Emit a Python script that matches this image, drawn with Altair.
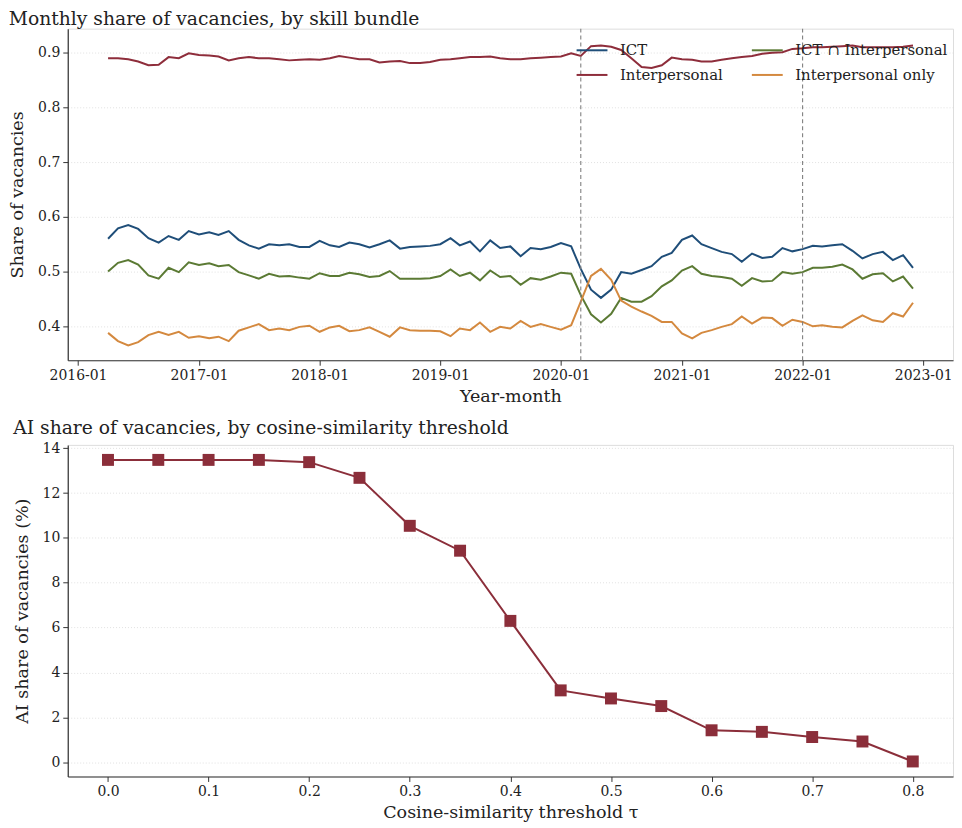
import altair as alt
import pandas as pd

FONT = "DejaVu Serif"

# ---------------- data: monthly shares (2016-04 .. 2022-12) ----------------
months = pd.date_range("2016-04-01", "2022-12-01", freq="MS").strftime("%Y-%m-%d").tolist()

ict = [0.560, 0.579, 0.585, 0.578, 0.561, 0.553, 0.565, 0.558, 0.574, 0.568,
       0.572, 0.567, 0.574, 0.558, 0.548, 0.542, 0.550, 0.548, 0.550, 0.545,
       0.545, 0.556, 0.548, 0.545, 0.553, 0.550, 0.544, 0.550, 0.557, 0.542,
       0.545, 0.546, 0.547, 0.550, 0.561, 0.548, 0.555, 0.537, 0.557, 0.543,
       0.546, 0.528, 0.543, 0.541, 0.545, 0.552, 0.546, 0.505, 0.467, 0.452,
       0.467, 0.499, 0.496, 0.503, 0.510, 0.527, 0.534, 0.558, 0.566, 0.550,
       0.543, 0.536, 0.532, 0.518, 0.533, 0.525, 0.527, 0.543, 0.537, 0.541,
       0.547, 0.546, 0.548, 0.550, 0.538, 0.524, 0.532, 0.536, 0.521, 0.530,
       0.507]

interpersonal = [0.890, 0.890, 0.888, 0.884, 0.877, 0.878, 0.892, 0.890, 0.899, 0.896,
                 0.895, 0.893, 0.886, 0.890, 0.892, 0.890, 0.890, 0.888, 0.886, 0.887,
                 0.888, 0.887, 0.890, 0.894, 0.891, 0.888, 0.888, 0.882, 0.884, 0.885,
                 0.881, 0.881, 0.883, 0.887, 0.888, 0.890, 0.892, 0.892, 0.893, 0.890,
                 0.888, 0.888, 0.890, 0.891, 0.892, 0.893, 0.899, 0.894, 0.912, 0.913,
                 0.911, 0.905, 0.890, 0.874, 0.872, 0.877, 0.891, 0.888, 0.887, 0.884,
                 0.884, 0.887, 0.890, 0.892, 0.894, 0.898, 0.900, 0.901, 0.907, 0.908,
                 0.910, 0.910, 0.911, 0.912, 0.913, 0.910, 0.910, 0.910, 0.910, 0.911,
                 0.913]

ict_and_interpersonal = [0.500, 0.516, 0.521, 0.513, 0.493, 0.487, 0.507, 0.499, 0.517, 0.512,
                         0.515, 0.510, 0.512, 0.499, 0.493, 0.487, 0.496, 0.491, 0.492, 0.489,
                         0.487, 0.497, 0.492, 0.492, 0.498, 0.495, 0.490, 0.492, 0.501, 0.487,
                         0.487, 0.487, 0.488, 0.492, 0.504, 0.492, 0.498, 0.484, 0.502, 0.490,
                         0.492, 0.476, 0.488, 0.485, 0.491, 0.498, 0.496, 0.457, 0.422, 0.407,
                         0.423, 0.452, 0.445, 0.445, 0.455, 0.473, 0.484, 0.502, 0.510, 0.496,
                         0.492, 0.490, 0.487, 0.474, 0.488, 0.482, 0.483, 0.499, 0.496, 0.499,
                         0.507, 0.507, 0.509, 0.513, 0.504, 0.487, 0.495, 0.497, 0.482, 0.491,
                         0.469]

interpersonal_only = [0.388, 0.373, 0.365, 0.371, 0.384, 0.390, 0.384, 0.390, 0.379, 0.382,
                      0.378, 0.381, 0.373, 0.392, 0.398, 0.404, 0.393, 0.396, 0.393, 0.399,
                      0.401, 0.390, 0.398, 0.401, 0.391, 0.393, 0.398, 0.390, 0.381, 0.398,
                      0.393, 0.392, 0.392, 0.391, 0.382, 0.396, 0.393, 0.407, 0.390, 0.399,
                      0.396, 0.410, 0.399, 0.404, 0.399, 0.394, 0.402, 0.445, 0.492, 0.505,
                      0.485, 0.447, 0.436, 0.427, 0.419, 0.408, 0.408, 0.387, 0.378, 0.388,
                      0.393, 0.399, 0.404, 0.418, 0.405, 0.416, 0.415, 0.401, 0.412, 0.408,
                      0.400, 0.402, 0.399, 0.398, 0.410, 0.420, 0.411, 0.408, 0.424, 0.418,
                      0.443]

series_names = ["ICT", "Interpersonal", "ICT \u2229 Interpersonal", "Interpersonal only"]
series_colors = ["#1f4e79", "#8e2d3b", "#5b7a34", "#d4893f"]
event_months = ["2020-03-01", "2022-01-01"]
year_ticks = list(range(2016, 2024))

# ---------------- data: AI share by threshold ----------------
tau = [0.00, 0.05, 0.10, 0.15, 0.20, 0.25, 0.30, 0.35, 0.40,
       0.45, 0.50, 0.55, 0.60, 0.65, 0.70, 0.75, 0.80]
ai_share = [13.48, 13.48, 13.48, 13.48, 13.38, 12.68, 10.54, 9.43, 6.30,
            3.20, 2.84, 2.50, 1.42, 1.35, 1.12, 0.92, 0.03]
ai_color = "#8b2e3a"

# ---------------- tables ----------------
rows = []
for name, vals in zip(series_names, [ict, interpersonal, ict_and_interpersonal, interpersonal_only]):
    for m, v in zip(months, vals):
        rows.append({"month": m, "series": name, "share": v})
df_top = pd.DataFrame(rows)
df_events = pd.DataFrame({"month": event_months})
df_ai = pd.DataFrame({"tau": tau, "ai": ai_share})


def ms(s):
    return int(pd.Timestamp(s).value // 10**6)


TXT = "#222222"
PLOT_W = 889
PLOT_H = 333
axis_common = dict(
    labelFont=FONT, titleFont=FONT, labelFontSize=14, titleFontSize=17.6,
    titleFontWeight="normal", labelColor=TXT, titleColor=TXT,
    domainColor="#333333", tickColor="#333333", tickSize=5, domainWidth=1.2,
)

x_top = alt.X(
    "month:T",
    scale=alt.Scale(type="utc", domain=[ms("2015-12-01"), ms("2023-04-01")], nice=False),
    axis=alt.Axis(
        title="Year-month", format="%Y-%m", grid=False,
        values=[alt.DateTime(year=y, month=1, date=1, utc=True) for y in year_ticks],
        labelPadding=3, titlePadding=5, **axis_common,
    ),
)
y_top = alt.Y(
    "share:Q",
    scale=alt.Scale(domain=[0.338, 0.944], nice=False, zero=False),
    axis=alt.Axis(
        title="Share of vacancies", format=".1f", values=[0.4, 0.5, 0.6, 0.7, 0.8, 0.9],
        grid=True, gridColor="#d9d9d9", gridDash=[1, 2], gridWidth=0.8,
        labelPadding=3, titlePadding=11, **axis_common,
    ),
)

lines = alt.Chart(df_top).mark_line(strokeWidth=2).encode(
    x=x_top,
    y=y_top,
    color=alt.Color(
        "series:N",
        scale=alt.Scale(domain=series_names, range=series_colors),
        legend=alt.Legend(
            orient="none", legendX=510, legendY=5, columns=2, title=None,
            symbolType="stroke", symbolSize=961, symbolStrokeWidth=2,
            labelFont=FONT, labelFontSize=15, labelColor=TXT, labelOffset=11.5,
            rowPadding=-8, columnPadding=25, padding=0,
        ),
    ),
)

events = alt.Chart(df_events).mark_rule(
    strokeDash=[4, 3], color="#808080", strokeWidth=1.1
).encode(x="month:T")

top = alt.layer(lines, events).properties(
    width=PLOT_W, height=PLOT_H,
    title=alt.TitleParams(
        "Monthly share of vacancies, by skill bundle", anchor="start",
        font=FONT, fontSize=18.8, fontWeight="normal", color=TXT, offset=-1,
    ),
)

x_bot = alt.X(
    "tau:Q",
    scale=alt.Scale(domain=[-0.04, 0.84], nice=False, zero=False),
    axis=alt.Axis(
        title="Cosine-similarity threshold \u03c4", format=".1f",
        values=[0.0, 0.1, 0.2, 0.3, 0.4, 0.5, 0.6, 0.7, 0.8], grid=False,
        labelPadding=3, titlePadding=5, **axis_common,
    ),
)
y_bot = alt.Y(
    "ai:Q",
    scale=alt.Scale(domain=[-0.64, 14.15], nice=False, zero=False),
    axis=alt.Axis(
        title="AI share of vacancies (%)", format="d", values=list(range(0, 15, 2)),
        grid=True, gridColor="#d9d9d9", gridDash=[1, 2], gridWidth=0.8,
        labelPadding=3, titlePadding=11, **axis_common,
    ),
)

ai_line = alt.Chart(df_ai).mark_line(strokeWidth=2, color=ai_color).encode(x=x_bot, y=y_bot)
ai_pts = alt.Chart(df_ai).mark_point(
    shape="square", size=144, filled=True, color=ai_color, opacity=1
).encode(x=x_bot, y=y_bot)

bottom = alt.layer(ai_line, ai_pts).properties(
    width=PLOT_W, height=PLOT_H,
    title=alt.TitleParams(
        "AI share of vacancies, by cosine-similarity threshold", anchor="start",
        font=FONT, fontSize=18.8, fontWeight="normal", color=TXT, offset=4,
    ),
)

chart = alt.vconcat(top, bottom, spacing=12).properties(
    padding={"left": 0, "top": 0, "right": 0, "bottom": 0}
).configure_view(stroke=None).configure(background="white")

chart.save("out.html", embed_options={"renderer": "svg", "actions": False})
